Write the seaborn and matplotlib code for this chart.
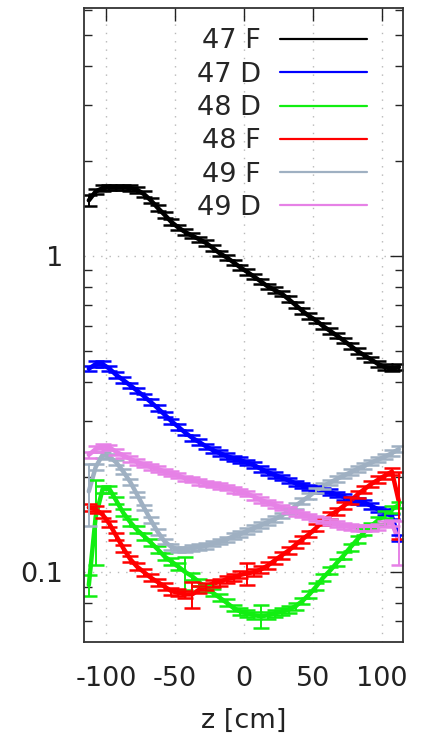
import numpy as np
import pandas as pd
import matplotlib
matplotlib.use("Agg")
import matplotlib.pyplot as plt
from matplotlib.lines import Line2D
from matplotlib.ticker import LogLocator, NullFormatter, FixedLocator
import seaborn as sns

sns.set_style("white")
plt.rcParams["font.family"] = ["DejaVu Sans"]
plt.rcParams["axes.unicode_minus"] = False

# Longitudinal position of the bins [cm]
z = np.arange(-112.5, 113.0, 5.0)

series_names = ["47 F", "47 D", "48 D", "48 F", "49 F", "49 D"]
series_colors = ["#000000", "#0000ff", "#11ee11", "#ff0000", "#9fb0c2", "#e681e6"]

v_47F = [1.50, 1.60, 1.64, 1.65, 1.65, 1.65, 1.64, 1.62, 1.57, 1.50,
         1.42, 1.35, 1.28, 1.23, 1.19, 1.16, 1.13, 1.10, 1.06, 1.02,
         0.99, 0.955, 0.92, 0.89, 0.86, 0.83, 0.80, 0.78, 0.76, 0.73,
         0.70, 0.67, 0.645, 0.625, 0.60, 0.58, 0.56, 0.54, 0.52, 0.50,
         0.485, 0.47, 0.455, 0.445, 0.44, 0.445]
v_47D = [0.44, 0.455, 0.455, 0.44, 0.42, 0.405, 0.39, 0.375, 0.36, 0.345,
         0.33, 0.315, 0.30, 0.288, 0.276, 0.266, 0.258, 0.25, 0.243, 0.238,
         0.233, 0.229, 0.226, 0.222, 0.218, 0.212, 0.207, 0.203, 0.199, 0.195,
         0.191, 0.188, 0.185, 0.183, 0.181, 0.179, 0.176, 0.173, 0.17, 0.168,
         0.166, 0.162, 0.158, 0.155, 0.15, 0.128]
v_48D = [0.091, 0.15, 0.183, 0.183, 0.168, 0.154, 0.144, 0.136, 0.13, 0.124,
         0.118, 0.112, 0.108, 0.104, 0.10, 0.097, 0.093, 0.089, 0.086, 0.083,
         0.08, 0.077, 0.075, 0.074, 0.073, 0.0725, 0.073, 0.074, 0.075, 0.076,
         0.078, 0.081, 0.085, 0.09, 0.096, 0.101, 0.107, 0.113, 0.12, 0.127,
         0.134, 0.14, 0.146, 0.152, 0.158, 0.163]
v_48F = [0.16, 0.158, 0.152, 0.142, 0.13, 0.119, 0.11, 0.104, 0.10, 0.096,
         0.093, 0.09, 0.087, 0.086, 0.085, 0.085, 0.088, 0.09, 0.092, 0.093,
         0.095, 0.096, 0.098, 0.099, 0.10, 0.102, 0.105, 0.109, 0.113, 0.117,
         0.122, 0.127, 0.132, 0.138, 0.145, 0.151, 0.156, 0.162, 0.168, 0.176,
         0.183, 0.19, 0.196, 0.202, 0.208, 0.167]
v_49F = [0.18, 0.215, 0.235, 0.232, 0.222, 0.208, 0.193, 0.176, 0.16, 0.146,
         0.134, 0.125, 0.12, 0.118, 0.118, 0.119, 0.12, 0.121, 0.123, 0.125,
         0.127, 0.13, 0.132, 0.135, 0.138, 0.141, 0.144, 0.147, 0.151, 0.156,
         0.162, 0.168, 0.174, 0.181, 0.187, 0.192, 0.197, 0.202, 0.207, 0.212,
         0.217, 0.222, 0.227, 0.232, 0.238, 0.245]
v_49D = [0.235, 0.245, 0.25, 0.248, 0.24, 0.234, 0.228, 0.223, 0.219, 0.215,
         0.212, 0.208, 0.205, 0.202, 0.198, 0.196, 0.193, 0.191, 0.189, 0.187,
         0.185, 0.182, 0.18, 0.177, 0.173, 0.169, 0.166, 0.163, 0.16, 0.157,
         0.154, 0.152, 0.15, 0.148, 0.146, 0.144, 0.142, 0.14, 0.139, 0.138,
         0.138, 0.138, 0.139, 0.142, 0.143, 0.125]

values = [v_47F, v_47D, v_48D, v_48F, v_49F, v_49D]

# Typical relative statistical uncertainty of each series
rel_err = [0.02, 0.02, 0.025, 0.025, 0.02, 0.02]
# Individual bins with larger absolute uncertainties: (series, bin index, error)
large_err = [("47 F", 0, 0.06), ("48 D", 0, 0.007), ("48 D", 1, 0.045),
             ("48 D", 14, 0.012), ("48 D", 25, 0.006), ("48 F", 15, 0.008),
             ("48 F", 23, 0.008), ("48 F", 45, 0.04), ("49 F", 0, 0.04),
             ("49 D", 45, 0.02)]

rows = []
for name, vals, r in zip(series_names, values, rel_err):
    for zi, vi in zip(z, vals):
        rows.append({"z": zi, "v": vi, "err": vi * r, "series": name})
df = pd.DataFrame(rows)
for name, idx, e in large_err:
    sel = df.index[df["series"] == name][idx]
    df.loc[sel, "err"] = e

fig = plt.figure(figsize=(4.33, 7.42), dpi=100)
ax = fig.add_axes([0.194, 0.1348, 0.737, 0.8544])

palette = dict(zip(series_names, series_colors))
sns.lineplot(data=df, x="z", y="v", hue="series", palette=palette,
             hue_order=series_names, linewidth=3.2, legend=False, ax=ax,
             estimator=None, sort=True)
for name in series_names:
    d = df[df["series"] == name]
    ax.errorbar(d["z"], d["v"], yerr=d["err"], fmt="none", ecolor=palette[name],
                elinewidth=1.4, capsize=5.5, capthick=1.8, zorder=2)

ax.set_yscale("log")
ax.set_xlim(-116, 115.6)
ax.set_ylim(0.0601, 6.09)

ax.xaxis.set_major_locator(FixedLocator([-100, -50, 0, 50, 100]))
ax.set_xticklabels(["-100", "-50", "0", "50", "100"])
ax.yaxis.set_major_locator(FixedLocator([0.1, 1]))
ax.set_yticklabels(["0.1", "1"])
ax.yaxis.set_minor_locator(LogLocator(base=10, subs=np.arange(2, 10)))
ax.yaxis.set_minor_formatter(NullFormatter())

ax.tick_params(axis="both", which="major", direction="in", length=9.5, width=1.0,
               top=True, right=True, labelsize=19.5, colors="#222222")
ax.tick_params(axis="x", which="major", pad=17)
ax.tick_params(axis="y", which="major", pad=15)
ax.tick_params(axis="y", which="minor", direction="in", length=5.5, width=1.0,
               left=True, right=True)
for lab in ax.get_xticklabels() + ax.get_yticklabels():
    lab.set_color("#222222")

ax.grid(True, which="major", color="#b8b8b8", linestyle=(0, (1, 5)), linewidth=1.0)
for s in ax.spines.values():
    s.set_color("#333333")
    s.set_linewidth(1.3)

ax.set_xlabel("z [cm]", fontsize=19.5, labelpad=12, color="#222222")
ax.set_ylabel("")

handles = [Line2D([], [], color=c, linewidth=1.6) for c in series_colors]
ax.legend(handles, series_names, loc="upper right", bbox_to_anchor=(0.92, 0.985),
          frameon=False, markerfirst=False, fontsize=19.5, handlelength=3.2,
          handletextpad=0.7, labelspacing=0.27, borderaxespad=0)

fig.savefig("out.png", dpi=100)
